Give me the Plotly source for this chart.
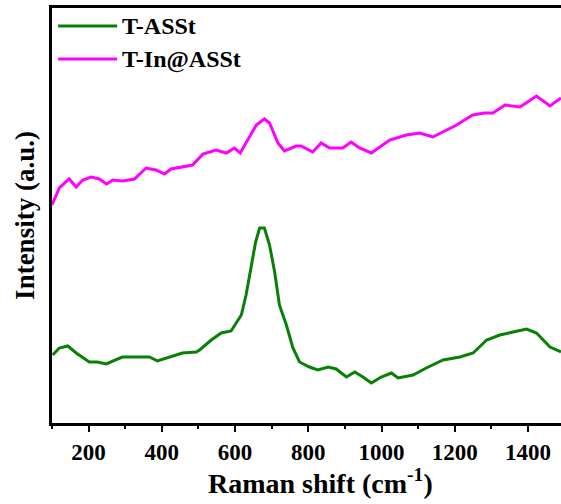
import plotly.graph_objects as go

# Raman spectra (Raman shift in cm^-1, intensity in arbitrary units)
shift_tin = [100, 120, 147, 166, 184, 207, 229, 249, 266, 293, 325, 357, 384, 407,
             425, 457, 484, 512, 548, 576, 598, 614, 639, 658, 680, 694, 717, 735,
             767, 780, 812, 835, 858, 894, 917, 940, 972, 1022, 1068, 1104, 1140,
             1205, 1249, 1282, 1304, 1337, 1378, 1400, 1423, 1460, 1490]
int_tin = [218, 235, 244, 236, 243, 246, 244, 239, 243, 242, 244, 255, 253, 249,
           254, 256, 258, 269, 273, 270, 275, 270, 286, 298, 304, 300, 280, 272,
           277, 277, 271, 280, 275, 275, 281, 275, 270, 283, 288, 290, 286,
           298, 308, 310, 310, 318, 316, 321, 327, 317, 325]

shift_t = [102, 120, 143, 166, 202, 224, 248, 292, 339, 366, 388, 429, 456, 494,
           503, 535, 562, 589, 617, 630, 644, 656, 667, 680, 694, 708, 721, 740,
           758, 776, 803, 826, 854, 876, 904, 927, 949, 972, 999, 1027, 1045,
           1086, 1122, 1168, 1214, 1250, 1287, 1323, 1359, 1396, 1423, 1460, 1490]
int_t = [68, 75, 77, 70, 61, 61, 59, 66, 66, 66, 62, 67, 70, 71,
         73, 83, 90, 92, 108, 128, 155, 181, 195, 195, 178, 151, 118, 98,
         75, 61, 56, 53, 56, 54, 46, 51, 46, 40, 46, 50, 45,
         48, 55, 63, 66, 70, 83, 88, 91, 94, 90, 76, 71]

series_names = ["T-ASSt", "T-In@ASSt"]
series_colors = ["#078007", "#FF00FF"]

x_range = [100, 1490]
y_range = [0, 415]
x_ticks = [200, 400, 600, 800, 1000, 1200, 1400]

FONT = "Liberation Serif, Times New Roman, serif"

fig = go.Figure()
for xs, ys, name, color in zip([shift_t, shift_tin], [int_t, int_tin],
                               series_names, series_colors):
    fig.add_trace(go.Scatter(x=xs, y=ys, mode="lines", name=name, showlegend=False,
                             line=dict(color=color, width=3)))

# Compact legend in the upper-left corner of the frame
legend_rows = [0.9566, 0.8771]
for row_y, name, color in zip(legend_rows, series_names, series_colors):
    fig.add_shape(type="line", xref="paper", yref="paper",
                  x0=0.012, x1=0.128, y0=row_y, y1=row_y,
                  line=dict(color=color, width=3))
    fig.add_annotation(xref="paper", yref="paper", x=0.134, y=row_y,
                       xanchor="left", yanchor="middle", showarrow=False,
                       text=f"<b>{name}</b>",
                       font=dict(family=FONT, size=24, color="black"))

# x-axis title, centred under the full spectral window
fig.add_annotation(xref="paper", yref="paper", x=0.528, y=-0.14,
                   xanchor="center", yanchor="middle", showarrow=False,
                   text="<b>Raman shift (cm<sup>-1</sup>)</b>",
                   font=dict(family=FONT, size=28, color="black"))

fig.update_layout(
    width=561, height=504,
    margin=dict(l=52, r=0, t=8, b=81),
    plot_bgcolor="white", paper_bgcolor="white",
    font=dict(family=FONT, color="black"),
    showlegend=False,
    xaxis=dict(
        range=x_range, tickvals=x_ticks, ticktext=[f"<b>{v}</b>" for v in x_ticks],
        showline=True, linecolor="black", linewidth=3, mirror=True,
        ticks="outside", ticklen=6, tickwidth=2, tickcolor="black",
        tickfont=dict(family=FONT, size=23, color="black"),
        minor=dict(dtick=100, tick0=100, ticks="outside", ticklen=3, tickwidth=2,
                   tickcolor="black", showgrid=False),
        showgrid=False, zeroline=False,
    ),
    yaxis=dict(
        range=y_range, showticklabels=False, ticks="",
        showline=True, linecolor="black", linewidth=3, mirror=False,
        showgrid=False, zeroline=False,
        title=dict(text="<b>Intensity (a.u.)</b>",
                   font=dict(family=FONT, size=27, color="black"), standoff=7),
    ),
)

fig.write_html("out.html")
